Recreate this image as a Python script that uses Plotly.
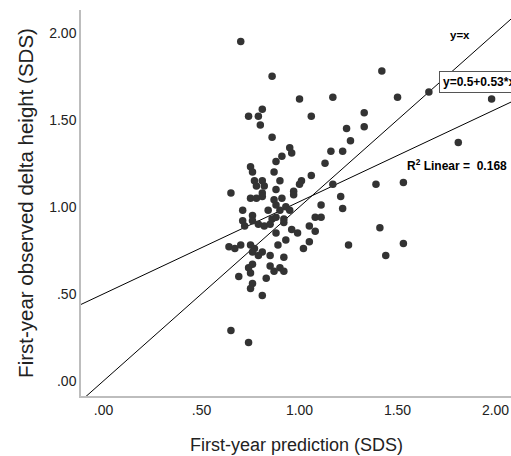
import plotly.graph_objects as go

pred_x = [0.70, 0.86, 1.42, 1.00, 1.17, 1.50, 1.66, 1.98, 0.81, 0.74, 0.79, 0.80, 1.06, 1.33, 1.33,
          1.24, 1.26, 0.86, 1.81, 0.95, 0.96, 0.91, 1.16, 1.22, 0.88, 1.13, 0.75, 0.76, 0.87, 1.06,
          1.01, 1.00, 0.77, 0.81, 0.90, 0.78, 0.82, 1.17, 1.39, 1.53, 0.65, 0.81, 0.88, 0.97, 0.75,
          0.78, 0.81, 0.91, 0.97, 1.21, 0.87, 1.11, 1.22, 0.71, 0.84, 0.88, 0.93, 0.95, 0.76, 0.76,
          0.71, 0.72, 0.79, 0.82, 0.86, 0.85, 0.88, 0.92, 0.92, 1.08, 1.11, 1.05, 1.08, 1.41, 0.96,
          0.99, 0.88, 0.93, 0.89, 1.05, 1.02, 1.25, 1.53, 1.44, 0.64, 0.67, 0.70, 0.75, 0.77, 0.76,
          0.81, 0.79, 0.85, 0.92, 0.76, 0.74, 0.75, 0.85, 0.90, 0.87, 0.92, 0.69, 0.83, 0.76, 0.75,
          0.81, 0.65, 0.74, 0.90]
obs_y = [1.95, 1.75, 1.78, 1.62, 1.63, 1.63, 1.66, 1.62, 1.56, 1.52, 1.52, 1.47, 1.52, 1.54, 1.46,
         1.45, 1.38, 1.40, 1.37, 1.34, 1.31, 1.29, 1.32, 1.32, 1.26, 1.25, 1.23, 1.20, 1.20, 1.18,
         1.15, 1.13, 1.15, 1.15, 1.15, 1.12, 1.12, 1.13, 1.13, 1.14, 1.08, 1.08, 1.10, 1.09, 1.05,
         1.05, 1.06, 1.05, 1.07, 1.06, 1.04, 1.01, 0.99, 0.98, 0.98, 1.01, 1.00, 0.98, 0.95, 0.92,
         0.92, 0.89, 0.90, 0.89, 0.93, 0.90, 0.94, 0.93, 0.91, 0.94, 0.94, 0.89, 0.86, 0.88, 0.87,
         0.85, 0.85, 0.81, 0.78, 0.80, 0.76, 0.78, 0.79, 0.72, 0.77, 0.76, 0.78, 0.78, 0.76, 0.74,
         0.74, 0.72, 0.72, 0.71, 0.67, 0.65, 0.62, 0.66, 0.65, 0.63, 0.63, 0.60, 0.59, 0.56, 0.53,
         0.49, 0.29, 0.22, 0.98]

# Fit line (from the chart label) and axes
fit_intercept = 0.5
fit_slope = 0.53
r2_linear = 0.168
x_range = [-0.115, 2.079]
y_range = [-0.087, 2.131]
tick_vals = [0.0, 0.5, 1.0, 1.5, 2.0]
tick_text = [".00", ".50", "1.00", "1.50", "2.00"]
x_title = "First-year prediction (SDS)"
y_title = "First-year observed delta height (SDS)"

font_family = "Liberation Sans, Arial, sans-serif"

fig = go.Figure()

# y = x reference line
fig.add_trace(go.Scatter(
    x=x_range, y=x_range, mode="lines",
    line=dict(color="black", width=1), hoverinfo="skip", showlegend=False))

# regression line
fig.add_trace(go.Scatter(
    x=x_range, y=[fit_intercept + fit_slope * v for v in x_range], mode="lines",
    line=dict(color="black", width=1), hoverinfo="skip", showlegend=False))

# points
fig.add_trace(go.Scatter(
    x=pred_x, y=obs_y, mode="markers",
    marker=dict(color="#333333", size=7.5, line=dict(width=0)),
    showlegend=False))

axis_common = dict(
    showline=True, linecolor="#bdbdbd", linewidth=1.5,
    showgrid=False, zeroline=False, ticks="", automargin=False,
    tickvals=tick_vals, ticktext=tick_text,
    tickfont=dict(family=font_family, size=14, color="#222222"),
)

fig.update_xaxes(range=x_range, **axis_common)
fig.update_yaxes(range=y_range, **axis_common,
                 title=dict(text=y_title,
                            font=dict(family=font_family, size=20.5, color="#222222"),
                            standoff=10))

# x-axis title as a paper-positioned text
fig.add_annotation(x=0.5, y=-0.127, xref="paper", yref="paper", text=x_title,
                   showarrow=False, xanchor="center", yanchor="middle",
                   font=dict(family=font_family, size=18, color="#222222"))

ann_font = dict(family=font_family, size=12, color="black")
fig.add_annotation(x=1.82, y=1.985, xref="x", yref="y", text="<b>y=x</b>",
                   showarrow=False, font=dict(family=font_family, size=11.5, color="black"))
fig.add_annotation(x=1.713, y=1.72, xref="x", yref="y",
                   text="<b>y=%s+%s*x</b>" % (fit_intercept, fit_slope),
                   showarrow=False, font=ann_font, xanchor="left",
                   bordercolor="#555555", borderwidth=1, borderpad=3, bgcolor="white")
fig.add_annotation(x=1.806, y=1.24, xref="x", yref="y",
                   text="<b>R<sup>2</sup> Linear =  %s</b>" % r2_linear,
                   showarrow=False, font=ann_font)

fig.update_layout(
    width=511, height=456,
    margin=dict(l=81, r=0, t=10, b=60),
    plot_bgcolor="white", paper_bgcolor="white",
)

fig.write_html("out.html", config={"displayModeBar": False},
               post_script="document.body.style.margin='0';")
